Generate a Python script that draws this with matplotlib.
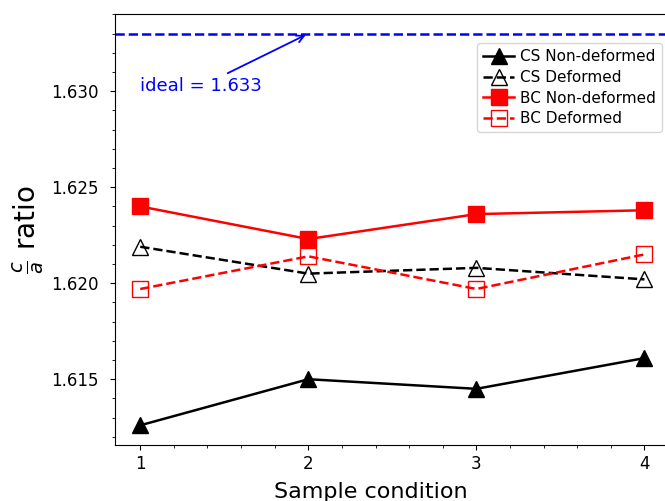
import matplotlib
matplotlib.use("Agg")
import matplotlib.pyplot as plt
from matplotlib.ticker import MultipleLocator

conditions = [1, 2, 3, 4]
cs_nondeformed = [1.6126, 1.6150, 1.6145, 1.6161]
cs_deformed = [1.6219, 1.6205, 1.6208, 1.6202]
bc_nondeformed = [1.6240, 1.6223, 1.6236, 1.6238]
bc_deformed = [1.6197, 1.6214, 1.6197, 1.6215]
ideal_ratio = 1.633

fig = plt.figure(figsize=(6.65, 5.01), dpi=100)
ax = fig.add_axes([0.173, 0.112, 0.834, 0.860])

lw = 1.8
ax.axhline(ideal_ratio, color="blue", linestyle="--", linewidth=lw)

ax.plot(conditions, cs_nondeformed, color="black", linestyle="-", linewidth=lw,
        marker="^", markersize=11, label="CS Non-deformed")
ax.plot(conditions, cs_deformed, color="black", linestyle="--", linewidth=lw,
        marker="^", markersize=11, markerfacecolor="none", label="CS Deformed")
ax.plot(conditions, bc_nondeformed, color="red", linestyle="-", linewidth=lw,
        marker="s", markersize=11, label="BC Non-deformed")
ax.plot(conditions, bc_deformed, color="red", linestyle="--", linewidth=lw,
        marker="s", markersize=11, markerfacecolor="none", label="BC Deformed")

ax.annotate(f"ideal = {ideal_ratio}", xy=(2, ideal_ratio), xytext=(1, 1.630),
            color="blue", fontsize=13,
            arrowprops=dict(arrowstyle="->", color="blue", linewidth=1.3))

ax.set_xticks(conditions)
ax.xaxis.set_minor_locator(MultipleLocator(0.2))
ax.yaxis.set_major_locator(MultipleLocator(0.005))
ax.yaxis.set_minor_locator(MultipleLocator(0.001))
ax.yaxis.set_major_formatter(plt.FormatStrFormatter("%.3f"))
ax.tick_params(labelsize=12)
ax.tick_params(axis="y", which="major", pad=8)

ax.set_xlabel("Sample condition", fontsize=16)
ax.xaxis.set_label_coords(0.462, -0.085)
ax.set_ylabel(r"$\frac{c}{a}$ ratio", fontsize=20)

ax.legend(loc="upper right", bbox_to_anchor=(1.0, 0.95), fontsize=11,
          labelspacing=0.37, handletextpad=0.4)

fig.savefig("out.png", dpi=100)
